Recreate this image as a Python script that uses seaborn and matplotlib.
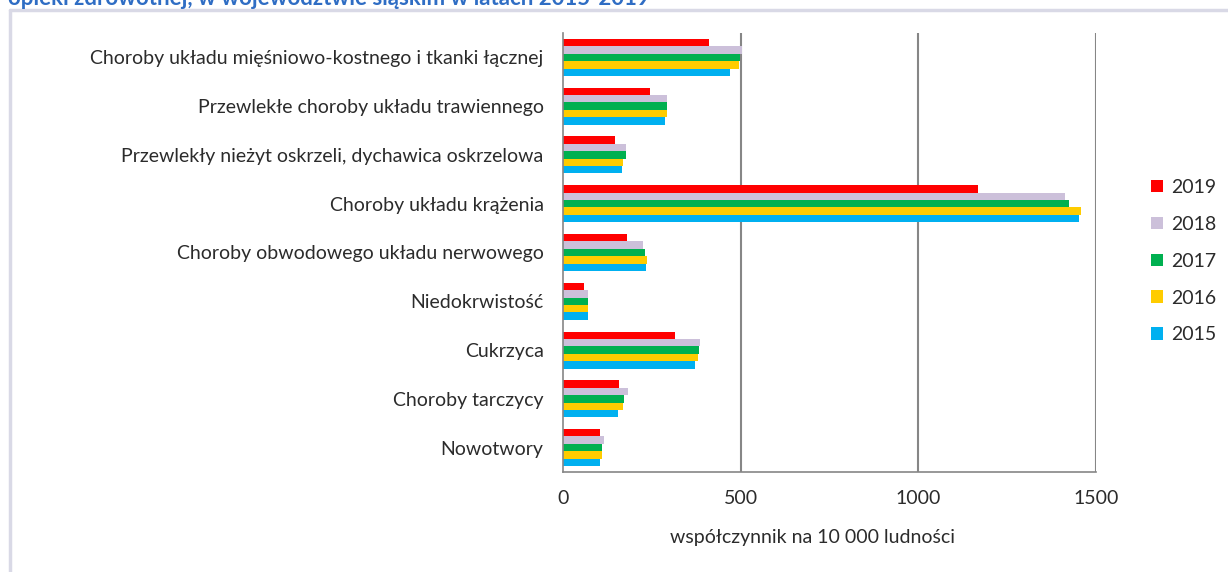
import matplotlib
matplotlib.use("Agg")
import matplotlib.pyplot as plt
from matplotlib.lines import Line2D
from matplotlib.patches import Patch
import seaborn as sns
import pandas as pd

# Disease categories (top to bottom)
categories = [
    "Choroby układu mięśniowo-kostnego i tkanki łącznej",
    "Przewlekłe choroby układu trawiennego",
    "Przewlekły nieżyt oskrzeli, dychawica oskrzelowa",
    "Choroby układu krążenia",
    "Choroby obwodowego układu nerwowego",
    "Niedokrwistość",
    "Cukrzyca",
    "Choroby tarczycy",
    "Nowotwory",
]

# Rate per 10 000 population, one list per year
v2019 = [412, 245, 147, 1167, 181, 60, 314, 158, 103]
v2018 = [504, 294, 178, 1412, 224, 71, 385, 183, 116]
v2017 = [499, 292, 176, 1423, 230, 71, 382, 172, 110]
v2016 = [494, 294, 169, 1458, 236, 71, 381, 169, 109]
v2015 = [470, 288, 167, 1453, 234, 71, 372, 155, 105]

years = ["2019", "2018", "2017", "2016", "2015"]
colors = ["#FF0000", "#CCC0DA", "#00B050", "#FFCC00", "#00B0F0"]
xticks = [0, 500, 1000, 1500]

rows = []
for year, vals in zip(years, [v2019, v2018, v2017, v2016, v2015]):
    for cat, v in zip(categories, vals):
        rows.append({"kategoria": cat, "rok": year, "wartosc": v})
df = pd.DataFrame(rows)

sns.set_theme(style="white")
font = "Lato"
plt.rcParams["font.family"] = [font, "DejaVu Sans"]
txt = "#2B2B2B"
fs = 14

fig = plt.figure(figsize=(12.28, 5.72), dpi=100)
ax = fig.add_axes([563 / 1228, 1 - 472 / 572, (1096 - 563) / 1228, (472 - 33) / 572])

sns.barplot(
    data=df, y="kategoria", x="wartosc", hue="rok",
    order=categories, hue_order=years, palette=colors,
    orient="h", width=0.76, dodge=True, ax=ax, legend=False,
    saturation=1, linewidth=0,
)

ax.set_xlim(0, 1500)
ax.set_ylim(len(categories) - 0.5, -0.5)

# vertical gridlines
for x in xticks[1:]:
    ax.axvline(x, color="#868686", lw=1.5, zorder=0)

for s in ["top", "right"]:
    ax.spines[s].set_visible(False)
for s in ["left", "bottom"]:
    ax.spines[s].set_color("#868686")
    ax.spines[s].set_linewidth(1.2)

ax.set_xticks(xticks)
ax.set_xticklabels([str(t) for t in xticks], fontsize=fs, color=txt)
ax.tick_params(axis="x", direction="out", length=3.6, width=1.2, color="#868686", pad=9)

ax.set_yticks(range(len(categories)))
ax.set_yticklabels(categories, fontsize=fs, color=txt)
ax.tick_params(axis="y", which="major", length=0, pad=14)
ax.set_yticks([i - 0.5 for i in range(len(categories) + 1)], minor=True)
ax.tick_params(axis="y", which="minor", direction="out", length=3.6, width=1.2, color="#868686")

ax.set_ylabel("")
ax.set_xlabel("współczynnik na 10 000 ludności", fontsize=fs, color=txt)
ax.xaxis.set_label_coords((812 - 563) / 533, -(529 - 472) / 439)

handles = [Patch(facecolor=c, edgecolor="none") for c in colors]
leg = fig.legend(
    handles, years, loc="upper left", bbox_to_anchor=(1151 / 1228, 1 - 179 / 572),
    frameon=False, fontsize=fs, handlelength=0.6, handleheight=0.6,
    handletextpad=0.45, labelspacing=1.02, borderaxespad=0, borderpad=0,
)
for t in leg.get_texts():
    t.set_color(txt)

# outer frame (left and top edges)
fig.add_artist(Line2D([10 / 1228, 10 / 1228], [0, 1 - 10 / 572],
                      transform=fig.transFigure, color="#D9D9E6", lw=2.5))
fig.add_artist(Line2D([10 / 1228, 1], [1 - 10 / 572, 1 - 10 / 572],
                      transform=fig.transFigure, color="#D9D9E6", lw=2.5))

# report heading
fig.text(8 / 1228, 1 - 5 / 572, "opieki zdrowotnej, w województwie śląskim w latach 2015-2019",
         fontsize=16, fontweight="bold", color="#2F6DC4", ha="left", va="baseline")

fig.savefig("out.png", dpi=100)
